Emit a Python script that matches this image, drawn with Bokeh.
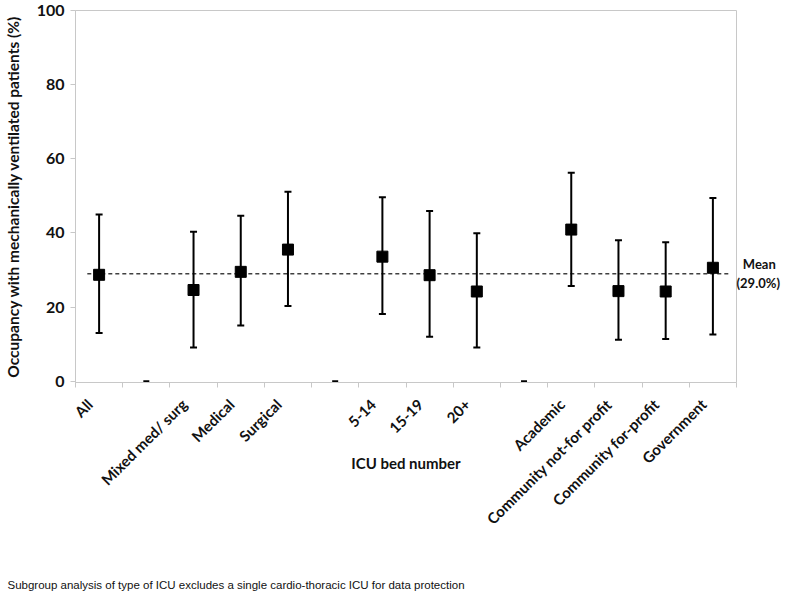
import math
from bokeh.plotting import figure
from bokeh.models import Range1d, FixedTicker, LinearAxis, Title, ColumnDataSource
from bokeh.embed import file_html
from bokeh.resources import INLINE

# ---- data ----
categories = ["All", "", "Mixed med/ surg", "Medical", "Surgical", "",
              "5-14", "15-19", "20+", "", "Academic",
              "Community not-for profit", "Community for-profit", "Government"]
point_pos = [0, 2, 3, 4, 6, 7, 8, 10, 11, 12, 13]
means = [28.7, 24.6, 29.5, 35.5, 33.6, 28.6, 24.2, 40.9, 24.3, 24.2, 30.6]
uppers = [45.0, 40.3, 44.6, 51.1, 49.6, 45.9, 39.9, 56.2, 38.0, 37.5, 49.4]
lowers = [13.0, 9.1, 15.0, 20.3, 18.1, 12.0, 9.1, 25.7, 11.2, 11.4, 12.6]
gap_pos = [1, 5, 9]
gap_vals = [0, 0, 0]
overall_mean = 29.0
mean_label = "\u00a0\u00a0Mean\n(29.0%)"
y_ticks = [0, 20, 40, 60, 80, 100]
x_title = "ICU bed number"
footnote = "Subgroup analysis of type of ICU excludes a single cardio-thoracic ICU for data protection"

FONT = "Lato"
GRAY = "#c8c8c8"
TXT = "#111111"

p = figure(width=784, height=593, output_backend="svg", toolbar_location=None,
           x_range=Range1d(-0.5, 13.5), y_range=Range1d(-0.35, 100),
           min_border_left=68, min_border_right=48, min_border_top=10,
           min_border_bottom=211)
p.grid.visible = False
p.outline_line_color = GRAY

# y axis
p.yaxis.ticker = FixedTicker(ticks=y_ticks)
p.yaxis.axis_label = "Occupancy with mechanically ventilated patients (%)"
p.yaxis.axis_label_text_font = FONT
p.yaxis.axis_label_text_font_style = "bold"
p.yaxis.axis_label_text_font_size = "15.5px"
p.yaxis.axis_label_text_color = TXT
p.yaxis.axis_label_standoff = 12
p.yaxis.major_label_text_font = FONT
p.yaxis.major_label_text_font_style = "bold"
p.yaxis.major_label_text_font_size = "16px"
p.yaxis.major_label_text_color = TXT
p.yaxis.major_label_standoff = 6
p.yaxis.axis_line_color = GRAY
p.yaxis.major_tick_line_color = GRAY
p.yaxis.major_tick_out = 5
p.yaxis.major_tick_in = 0
p.yaxis.minor_tick_line_color = None

# x axis: labels near centres (shifted like the reference), tick marks at boundaries
label_shift = 0.2
boundaries = [i - 0.5 for i in range(len(categories) + 1)]
label_ticks = [i - label_shift for i in range(len(categories))]
p.xaxis.ticker = FixedTicker(ticks=label_ticks, minor_ticks=boundaries)
p.xaxis.major_label_overrides = {t: c for t, c in zip(label_ticks, categories)}
p.xaxis.major_label_orientation = math.pi / 4
p.xaxis.major_label_text_font = FONT
p.xaxis.major_label_text_font_style = "bold"
p.xaxis.major_label_text_font_size = "15px"
p.xaxis.major_label_text_color = TXT
p.xaxis.major_label_standoff = 14
p.xaxis.major_tick_line_color = None
p.xaxis.major_tick_out = 0
p.xaxis.minor_tick_line_color = GRAY
p.xaxis.minor_tick_out = 5
p.xaxis.minor_tick_in = 0
p.xaxis.axis_line_color = GRAY
p.xaxis.axis_label = x_title
p.xaxis.axis_label_text_font = FONT
p.xaxis.axis_label_text_font_style = "bold"
p.xaxis.axis_label_text_font_size = "15px"
p.xaxis.axis_label_text_color = TXT
p.xaxis.axis_label_standoff = -83

# right axis carrying the mean label
rax = LinearAxis(ticker=FixedTicker(ticks=[overall_mean]),
                 major_label_overrides={overall_mean: mean_label},
                 axis_line_color=None, major_tick_line_color=None,
                 minor_tick_line_color=None, major_tick_out=0, major_tick_in=0,
                 minor_tick_out=0, minor_tick_in=0, axis_label_standoff=0,
                 major_label_standoff=0,
                 major_label_text_font=FONT, major_label_text_font_style="bold",
                 major_label_text_font_size="13px", major_label_text_color=TXT)
p.add_layout(rax, "right")

# spacer + footnote at the bottom of the canvas
p.add_layout(Title(text=" ", text_font_size="1px", standoff=96), "below")
p.add_layout(Title(text=footnote, align="left", offset=-68, standoff=4,
                   text_font="Liberation Sans", text_font_style="normal",
                   text_font_size="11.5px", text_color=TXT), "below")

# mean line
p.segment(x0=[-0.25], y0=[overall_mean], x1=[13.38], y1=[overall_mean],
          line_color="#404040", line_width=1.5, line_dash="4 3")

src = ColumnDataSource(dict(x=point_pos, m=means, u=uppers, l=lowers))
p.segment(x0="x", y0="l", x1="x", y1="u", source=src, line_color="black", line_width=2)
p.scatter(x="x", y="u", source=src, marker="dash", size=7, line_color="black", line_width=2)
p.scatter(x="x", y="l", source=src, marker="dash", size=7, line_color="black", line_width=2)
p.scatter(x="x", y="m", source=src, marker="square", size=11,
          fill_color="black", line_color="black")
p.scatter(x=gap_pos, y=gap_vals, marker="dash", size=6, line_color="black", line_width=2)

open("out.html", "w").write(file_html(p, INLINE))
